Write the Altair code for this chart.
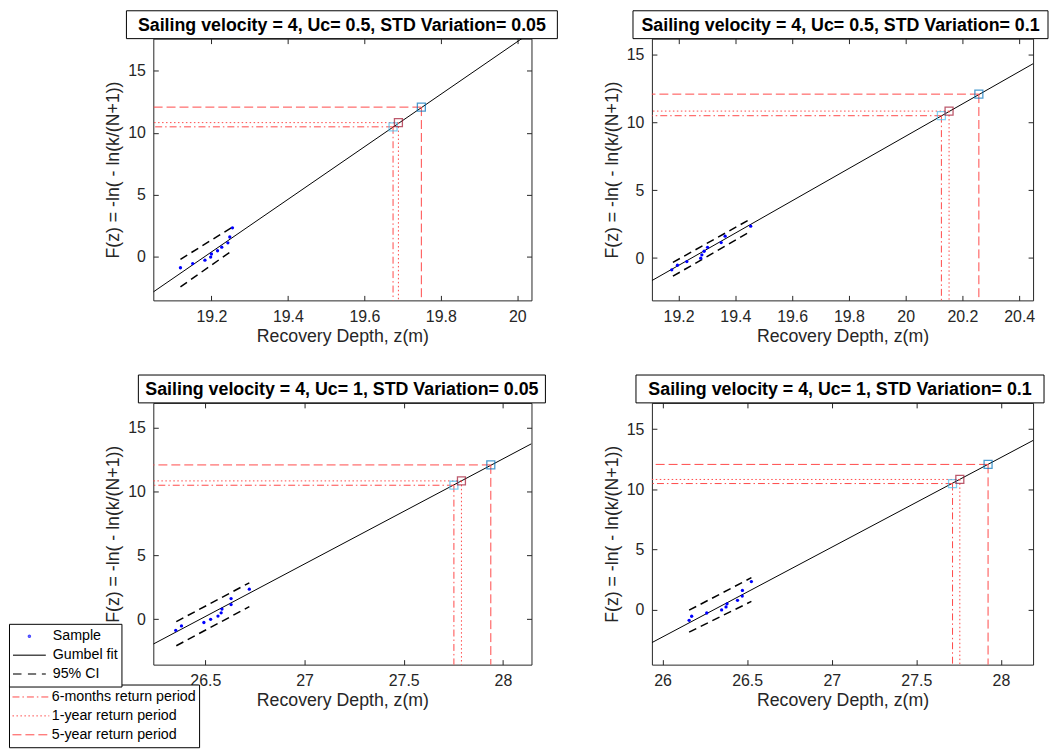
import altair as alt
import pandas as pd

# ---------------- data ----------------
TITLES = [
    "Sailing velocity = 4, Uc= 0.5, STD Variation= 0.05",
    "Sailing velocity = 4, Uc= 0.5, STD Variation= 0.1",
    "Sailing velocity = 4, Uc= 1, STD Variation= 0.05",
    "Sailing velocity = 4, Uc= 1, STD Variation= 0.1",
]
XLABEL = "Recovery Depth, z(m)"
YLABEL = "F(z) = -ln( - ln(k/(N+1))"

# reduced variate of the 10 ranked samples (same for every panel)
PLOT_POS = [-0.87, -0.53, -0.26, -0.01, 0.24, 0.50, 0.79, 1.14, 1.61, 2.35]

P1_SAMPLE_X = [19.119, 19.151, 19.183, 19.198, 19.200, 19.216, 19.227, 19.243, 19.248, 19.255]
P2_SAMPLE_X = [19.176, 19.196, 19.229, 19.278, 19.282, 19.290, 19.302, 19.350, 19.364, 19.454]
P3_SAMPLE_X = [26.351, 26.380, 26.493, 26.527, 26.564, 26.580, 26.584, 26.630, 26.630, 26.722]
P4_SAMPLE_X = [26.157, 26.172, 26.261, 26.349, 26.375, 26.381, 26.443, 26.471, 26.472, 26.525]
SAMPLE_X = [P1_SAMPLE_X, P2_SAMPLE_X, P3_SAMPLE_X, P4_SAMPLE_X]

FIT_X = [[19.048, 20.037], [19.106, 20.449], [26.238, 28.144], [25.937, 28.19]]
FIT_Y = [[-2.82, 18.14], [-1.66, 14.32], [-1.95, 13.74], [-2.72, 14.07]]

CI_X = [[19.119, 19.255], [19.18, 19.452], [26.354, 26.722], [26.157, 26.525]]
CI_UPPER = [[-0.19, 2.41], [-0.32, 2.86], [-0.19, 2.85], [-0.03, 2.67]]
CI_LOWER = [[-2.41, 0.53], [-1.34, 1.94], [-2.08, 0.98], [-1.85, 0.70]]

RP_NAMES = ["6-months return period", "1-year return period", "5-year return period"]
RP_Y = [10.49, 10.83, 12.08]
RP_X = [[19.675, 19.689, 19.749], [20.126, 20.153, 20.258],
        [27.753, 27.791, 27.939], [27.714, 27.757, 27.924]]
RP_MARK_COLORS = ["#4DBEEE", "#A2142F", "#0072BD"]

X_DOMAIN = [[19.048, 20.037], [19.106, 20.449], [26.238, 28.144], [25.937, 28.19]]
Y_DOMAIN = [[-3.5, 17.6], [-3.12, 16.17], [-3.56, 16.94], [-4.55, 17.19]]
X_TICKS = [[19.2, 19.4, 19.6, 19.8, 20.0],
           [19.2, 19.4, 19.6, 19.8, 20.0, 20.2, 20.4],
           [26.5, 27.0, 27.5, 28.0],
           [26.0, 26.5, 27.0, 27.5, 28.0]]
Y_TICKS = [0, 5, 10, 15]

LEG_A = ["Sample", "Gumbel fit", "95% CI"]

# ---------------- styling ----------------
FONT = "Liberation Sans"
AX = "#262626"
RED = "#ff4a4a"
WIDTHS = [380, 383, 380, 383]
HEIGHT = 263
BOX = [(-27, 26), (-19, 15), (-15, 14), (-16, 11)]  # title box extents (px, relative to plot)

DOT = "M-0.06,0A0.06,0.06,0,1,1,0.06,0A0.06,0.06,0,1,1,-0.06,0Z"
SOLID = "M-1,0H1"
DASHED = "M-1,0H-0.48M-0.09,0H0.41M0.76,0H1"
RP_DASH = [[7, 3, 1.5, 3], [1.5, 2.5], [9, 4]]


def make_panel(i, show_legend):
    w = WIDTHS[i]
    xs = alt.Scale(domain=X_DOMAIN[i], nice=False, zero=False)
    ys = alt.Scale(domain=Y_DOMAIN[i], nice=False, zero=False)

    ax_b = alt.Axis(orient="bottom", values=X_TICKS[i], format="~g", offset=-5, tickSize=5,
                    domain=False, labelPadding=8, title=XLABEL, titlePadding=3, labelFlush=False)
    ax_t = alt.Axis(orient="top", values=X_TICKS[i], offset=-5, tickSize=5, domain=False,
                    labels=False, title=None)
    ax_l = alt.Axis(orient="left", values=Y_TICKS, offset=-5, tickSize=5, domain=False,
                    labelPadding=8, title=YLABEL, titlePadding=5)
    ax_r = alt.Axis(orient="right", values=Y_TICKS, offset=-5, tickSize=5, domain=False,
                    labels=False, title=None)

    fit_df = pd.DataFrame({"x": FIT_X[i], "y": FIT_Y[i]})
    fit = alt.Chart(fit_df).mark_line(color="black", strokeWidth=1, clip=True).encode(
        x=alt.X("x:Q", scale=xs, axis=ax_b), y=alt.Y("y:Q", scale=ys, axis=ax_l))

    ci_df = pd.DataFrame({
        "x": CI_X[i] + CI_X[i],
        "y": CI_UPPER[i] + CI_LOWER[i],
        "b": ["upper", "upper", "lower", "lower"],
    })
    ci = alt.Chart(ci_df).mark_line(color="black", strokeWidth=1.5, strokeDash=[8, 5]).encode(
        x=alt.X("x:Q", scale=xs, axis=ax_t), y=alt.Y("y:Q", scale=ys, axis=ax_r), detail="b:N")

    rp_df = pd.DataFrame({"rp": RP_NAMES, "x": RP_X[i], "y": RP_Y, "c": RP_MARK_COLORS})
    if show_legend:
        leg_b = alt.Legend(orient="none", legendX=-145, legendY=283, title=None,
                           symbolType="stroke", symbolSize=1369, clipHeight=19, rowPadding=0,
                           symbolStrokeColor=RED, symbolStrokeWidth=1, labelOffset=2,
                           padding=3, strokeColor="black", fillColor="white",
                           labelFont=FONT, labelFontSize=14.3, labelColor="black")
    else:
        leg_b = None
    dash = alt.StrokeDash("rp:N", scale=alt.Scale(domain=RP_NAMES, range=RP_DASH), legend=leg_b)
    hrule = alt.Chart(rp_df).mark_rule(color=RED, strokeWidth=1).encode(
        x=alt.X("x:Q", scale=xs, axis=None), x2=alt.value(0),
        y=alt.Y("y:Q", scale=ys, axis=None), strokeDash=dash)
    vrule = alt.Chart(rp_df).mark_rule(color=RED, strokeWidth=1).encode(
        x=alt.X("x:Q", scale=xs, axis=None), y=alt.Y("y:Q", scale=ys, axis=None),
        y2=alt.value(HEIGHT), strokeDash=dash)
    squares = alt.Chart(rp_df).mark_point(shape="square", filled=False, size=64, strokeWidth=1.3).encode(
        x=alt.X("x:Q", scale=xs, axis=None), y=alt.Y("y:Q", scale=ys, axis=None),
        stroke=alt.Stroke("c:N", scale=None))

    s_df = pd.DataFrame({"x": SAMPLE_X[i], "y": PLOT_POS, "leg": ["Sample"] * len(PLOT_POS)})
    samples = alt.Chart(s_df).mark_circle(size=11, color="#0000ff", opacity=1).encode(
        x=alt.X("x:Q", scale=xs, axis=None), y=alt.Y("y:Q", scale=ys, axis=None))

    layers = [fit, ci, hrule, vrule, samples, squares]

    if show_legend:
        leg_a = alt.Legend(orient="none", legendX=-145, legendY=222, title=None,
                           symbolSize=1089, clipHeight=19, rowPadding=0, labelOffset=6, padding=3,
                           strokeColor="black", fillColor="white",
                           labelFont=FONT, labelFontSize=14.3, labelColor="black")
        # legend carrier: keys only (all rows filtered away, scale domain is explicit)
        carrier = alt.Chart(s_df).transform_filter("datum.x > 1e9").mark_point(
            filled=False, strokeWidth=1.2).encode(
            x=alt.X("x:Q", scale=xs, axis=None), y=alt.Y("y:Q", scale=ys, axis=None),
            shape=alt.Shape("leg:N", scale=alt.Scale(domain=LEG_A, range=[DOT, SOLID, DASHED]), legend=leg_a),
            color=alt.Color("leg:N", scale=alt.Scale(domain=LEG_A, range=["#0000ff", "black", "black"]),
                            legend=leg_a))
        layers.append(carrier)

    one = pd.DataFrame({"k": [0]})
    x0, x1 = BOX[i]
    tbox = alt.Chart(one).mark_rect(fill="white", stroke="black", strokeWidth=1).encode(
        x=alt.value(x0), x2=alt.value(w + x1), y=alt.value(-28), y2=alt.value(0))
    ttext = alt.Chart(one).mark_text(text=TITLES[i], font=FONT, fontSize=17.9, fontWeight="bold",
                                     color="black", baseline="middle", align="center").encode(
        x=alt.value(w / 2 + (x0 + x1) / 2), y=alt.value(-13))
    layers += [tbox, ttext]

    return alt.layer(*layers).resolve_axis(
        x="independent", y="independent").properties(width=w, height=HEIGHT)


panels = [make_panel(0, False), make_panel(1, False), make_panel(2, True), make_panel(3, False)]

ind = dict(color="independent", shape="independent", strokeDash="independent", stroke="independent")
chart = alt.concat(*panels, columns=2, spacing={"row": 103, "column": 121}, bounds="flush").resolve_scale(
    **ind).configure_axis(
    labelFont=FONT, labelFontSize=16, labelColor=AX, titleFont=FONT, titleFontSize=17.8,
    titleFontWeight="normal", titleColor=AX, tickColor=AX, tickWidth=1, grid=False
).configure_view(stroke=AX, strokeWidth=1).properties(padding=0, background="white")

chart.save("out.html", embed_options={"renderer": "svg", "actions": False})
